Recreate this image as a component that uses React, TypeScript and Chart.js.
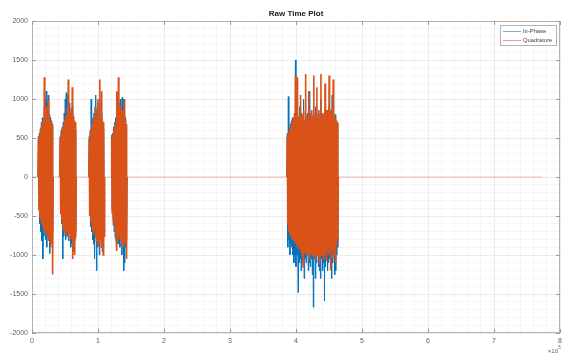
import { useEffect, useRef } from "react";
import { Chart, registerables } from "chart.js";

Chart.register(...registerables);

const chartTitle = "Raw Time Plot";
const seriesNames = ["In-Phase", "Quadrature"];
const seriesColors = ["#0072BD", "#D95319"];
const exponentLabel = "×10";
const exponentPower = "5";

// burst boundaries in samples
const burstStarts = [9000, 42000, 86000, 120000, 386000];
const burstEnds = [32000, 67000, 110000, 144000, 464000];
const recordEnd = 773000;

// In-Phase samples per burst
const inPhaseBurst1 = [520, -380, 560, -600, 620, -700, 700, -820, 760, -1050, 680, -760, 900, -650, 1000, -800, 1100, -900, 950, -760, 1050, -700, 800, -980, 760, -760, 720, -800, 640, -700];
const inPhaseBurst2 = [520, -420, 600, -600, 640, -1050, 700, -760, 820, -700, 1000, -800, 1080, -720, 1050, -760, 900, -820, 950, -700, 760, -900, 820, -850, 900, -760, 720, -960, 680, -820, 600, -700];
const inPhaseBurst3 = [520, -460, 600, -640, 1000, -700, 700, -800, 760, -860, 820, -1050, 900, -760, 1050, -1200, 860, -900, 950, -820, 800, -1000, 1000, -760, 720, -880, 820, -960, 700, -820, 620, -700];
const inPhaseBurst4 = [540, -420, 560, -620, 640, -700, 700, -780, 760, -820, 900, -700, 1000, -860, 950, -760, 860, -900, 1000, -800, 880, -1000, 1020, -760, 1000, -1200, 780, -1100, 760, -900, 640, -800];
const inPhaseBurst5 = [
  560, -900, 1030, -800, 620, -1000, 680, -860, 720, -900,
  760, -1000, 740, -1100, 820, -1000, 1500, -1150, 760, -1000,
  800, -1480, 760, -1100, 900, -1050, 780, -1200, 820, -1100,
  760, -1000, 1000, -1300, 720, -1050, 800, -1100, 760, -1000,
  820, -1200, 760, -1100, 1100, -1150, 740, -1050, 800, -1250,
  780, -1670, 820, -1050, 760, -1300, 900, -1100, 800, -1000,
  740, -1150, 820, -1200, 760, -1300, 1000, -1050, 780, -1200,
  800, -1100, 740, -1590, 860, -1150, 780, -1000, 820, -1200,
  760, -1100, 900, -1050, 800, -1150, 740, -1300, 1050, -1100,
  780, -1000, 740, -1250, 800, -1200, 700, -1000, 680, -900,
];

// Quadrature samples per burst
const quadratureBurst1 = [500, -430, 540, -520, 600, -560, 650, -600, 700, -640, 720, -700, 1280, -680, 760, -720, 900, -760, 740, -700, 1000, -820, 760, -780, 720, -900, 700, -860, 680, -1250];
const quadratureBurst2 = [500, -480, 560, -560, 620, -640, 650, -700, 700, -720, 760, -680, 800, -760, 900, -700, 1250, -780, 820, -720, 760, -800, 880, -760, 1150, -1050, 780, -900, 720, -1000, 700, -780];
const quadratureBurst3 = [480, -500, 560, -560, 620, -620, 680, -680, 720, -740, 760, -700, 820, -780, 900, -820, 780, -760, 1000, -880, 800, -760, 1250, -800, 760, -900, 1100, -780, 720, -1000, 700, -760];
const quadratureBurst4 = [500, -460, 540, -540, 600, -600, 660, -680, 700, -720, 1100, -950, 760, -760, 1280, -800, 820, -760, 900, -820, 760, -880, 860, -800, 800, -900, 1000, -860, 720, -780, 680, -1050];
const quadratureBurst5 = [
  520, -620, 560, -700, 600, -760, 640, -720, 700, -800,
  720, -780, 760, -820, 800, -860, 1300, -800, 760, -900,
  1280, -880, 740, -920, 800, -860, 1050, -950, 760, -1000,
  800, -1150, 850, -900, 720, -960, 1320, -880, 780, -1000,
  760, -920, 1100, -1050, 720, -900, 820, -980, 860, -940,
  780, -1000, 1300, -880, 740, -1050, 800, -920, 1150, -1000,
  760, -960, 860, -1100, 720, -900, 1320, -1000, 800, -950,
  820, -1050, 740, -920, 1200, -1000, 800, -1080, 860, -940,
  760, -1000, 1300, -900, 800, -1200, 860, -950, 740, -1050,
  1250, -920, 780, -1000, 740, -1100, 720, -880, 700, -800,
];

const inPhaseBursts = [inPhaseBurst1, inPhaseBurst2, inPhaseBurst3, inPhaseBurst4, inPhaseBurst5];
const quadratureBursts = [quadratureBurst1, quadratureBurst2, quadratureBurst3, quadratureBurst4, quadratureBurst5];

const xMin = 0;
const xMax = 800000;
const xMinorStep = 20000;
const xMajorStep = 100000;
const yMin = -2000;
const yMax = 2000;
const yMinorStep = 100;
const yMajorStep = 500;

function buildSeries(bursts: number[][]) {
  const pts: { x: number; y: number }[] = [{ x: 0, y: 0 }];
  bursts.forEach((vals, k) => {
    const s = burstStarts[k];
    const e = burstEnds[k];
    pts.push({ x: s, y: 0 });
    vals.forEach((v, i) => {
      pts.push({ x: s + ((e - s) * (i + 1)) / (vals.length + 1), y: v });
    });
    pts.push({ x: e, y: 0 });
  });
  pts.push({ x: recordEnd, y: 0 });
  return pts;
}

const FONT = '"Liberation Sans", Arial, sans-serif';
const MAJOR_GRID = "#ebebeb";
const MINOR_GRID = "#f5f5f5";
const AXIS_COLOR = "#b3b3b3";
const TICK_COLOR = "#999999";
const LABEL_COLOR = "#5f5f5f";

const decorPlugin = {
  id: "decor",
  afterDraw(chart: any) {
    const ctx = chart.ctx as CanvasRenderingContext2D;
    const { left, right, top, bottom } = chart.chartArea;
    const xs = chart.scales.x;
    const ys = chart.scales.y;
    ctx.save();
    ctx.strokeStyle = AXIS_COLOR;
    ctx.lineWidth = 1;
    ctx.strokeRect(Math.round(left) + 0.5, Math.round(top) + 0.5, Math.round(right - left) - 1, Math.round(bottom - top) - 1);
    ctx.strokeStyle = TICK_COLOR;
    ctx.beginPath();
    for (let v = xMin; v <= xMax; v += xMajorStep) {
      const px = Math.round(xs.getPixelForValue(v)) + 0.5;
      ctx.moveTo(px, bottom);
      ctx.lineTo(px, bottom - 4);
      ctx.moveTo(px, top);
      ctx.lineTo(px, top + 4);
    }
    for (let v = yMin; v <= yMax; v += yMajorStep) {
      const py = Math.round(ys.getPixelForValue(v)) + 0.5;
      ctx.moveTo(left, py);
      ctx.lineTo(left + 4, py);
      ctx.moveTo(right, py);
      ctx.lineTo(right - 4, py);
    }
    ctx.stroke();
    // title
    ctx.fillStyle = "#222";
    ctx.font = `bold 8px ${FONT}`;
    ctx.textAlign = "center";
    ctx.textBaseline = "middle";
    ctx.fillText(chartTitle, (left + right) / 2, 14);
    // legend
    const lx = 500.5, ly = 25.5, lw = 56, lh = 20;
    ctx.fillStyle = "#fff";
    ctx.fillRect(lx, ly, lw, lh);
    ctx.strokeStyle = "#b4b4b4";
    ctx.strokeRect(lx, ly, lw, lh);
    seriesNames.forEach((name, i) => {
      const yy = 31.5 + i * 9;
      ctx.strokeStyle = seriesColors[i];
      ctx.globalAlpha = 0.55;
      ctx.beginPath();
      ctx.moveTo(503, yy);
      ctx.lineTo(521, yy);
      ctx.stroke();
      ctx.globalAlpha = 1;
      ctx.fillStyle = "#444";
      ctx.font = `5.8px ${FONT}`;
      ctx.textAlign = "left";
      ctx.textBaseline = "middle";
      ctx.fillText(name, 523, yy);
    });
    // exponent
    ctx.fillStyle = LABEL_COLOR;
    ctx.font = `6px ${FONT}`;
    ctx.textAlign = "right";
    ctx.textBaseline = "middle";
    ctx.fillText(exponentLabel, 558, 351);
    ctx.font = `4.5px ${FONT}`;
    ctx.textAlign = "left";
    ctx.fillText(exponentPower, 558.3, 347.5);
    ctx.restore();
  },
};

export default function App() {
  const canvasRef = useRef<HTMLCanvasElement | null>(null);

  useEffect(() => {
    document.body.style.margin = "0";
    const canvas = canvasRef.current;
    if (!canvas) return;
    const isFlat = (c: any) => c.p0.parsed.y === 0 && c.p1.parsed.y === 0;
    const chart = new Chart(canvas, {
      type: "line",
      data: {
        datasets: [
          {
            label: seriesNames[0],
            data: buildSeries(inPhaseBursts),
            borderColor: seriesColors[0],
            borderWidth: 1,
            pointRadius: 0,
            tension: 0,
            order: 2,
            segment: { borderColor: (c: any) => (isFlat(c) ? "rgba(0,0,0,0)" : undefined) },
          },
          {
            label: seriesNames[1],
            data: buildSeries(quadratureBursts),
            borderColor: seriesColors[1],
            borderWidth: 1.6,
            pointRadius: 0,
            tension: 0,
            order: 1,
            segment: {
              borderColor: (c: any) => (isFlat(c) ? "rgba(217,83,25,0.35)" : undefined),
              borderWidth: (c: any) => (isFlat(c) ? 1 : undefined),
            },
          },
        ],
      },
      options: {
        animation: false,
        responsive: false,
        devicePixelRatio: 1,
        layout: { padding: { top: 21, right: 5, left: 0, bottom: 0 } },
        plugins: {
          legend: { display: false },
          title: { display: false },
          tooltip: { enabled: false },
        },
        scales: {
          x: {
            type: "linear",
            min: xMin,
            max: xMax,
            afterFit: (s: any) => {
              s.height = 21;
            },
            ticks: {
              stepSize: xMinorStep,
              autoSkip: false,
              maxRotation: 0,
              padding: 4,
              color: LABEL_COLOR,
              font: { family: FONT, size: 7 },
              callback: (v: any) => (Number(v) % xMajorStep === 0 ? String(Number(v) / xMajorStep) : ""),
            },
            grid: {
              drawTicks: false,
              color: (c: any) => (c.tick && c.tick.value % xMajorStep === 0 ? MAJOR_GRID : MINOR_GRID),
              lineWidth: 1,
            },
            border: { display: false },
          },
          y: {
            type: "linear",
            min: yMin,
            max: yMax,
            afterFit: (s: any) => {
              s.width = 32;
            },
            ticks: {
              stepSize: yMinorStep,
              autoSkip: false,
              padding: 4,
              color: LABEL_COLOR,
              font: { family: FONT, size: 7 },
              callback: (v: any) => (Number(v) % yMajorStep === 0 ? String(v) : ""),
            },
            grid: {
              drawTicks: false,
              color: (c: any) => (c.tick && c.tick.value % yMajorStep === 0 ? MAJOR_GRID : MINOR_GRID),
              lineWidth: 1,
            },
            border: { display: false },
          },
        },
      } as any,
      plugins: [decorPlugin],
    });
    return () => chart.destroy();
  }, []);

  return (
    <div style={{ position: "fixed", left: 0, top: 0, width: 566, height: 354, background: "#fff" }}>
      <canvas ref={canvasRef} width={566} height={354} style={{ display: "block", width: 566, height: 354 }} />
    </div>
  );
}
